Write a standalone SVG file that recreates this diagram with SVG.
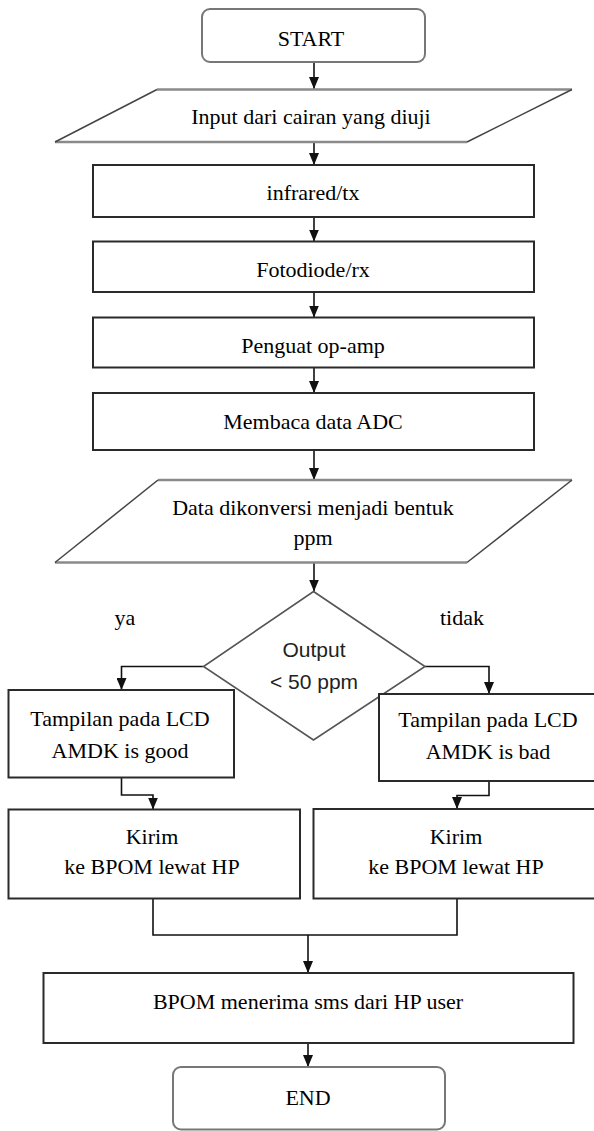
<svg xmlns="http://www.w3.org/2000/svg" width="594" height="1131" viewBox="0 0 594 1131">
<style>
.t{font-family:'Liberation Serif','Times New Roman',serif;font-size:22px;fill:#000;text-anchor:middle}
.s{font-family:'Liberation Sans',Arial,sans-serif;font-size:21px;fill:#222;text-anchor:middle}
.box{fill:#fff;stroke:#2a2a2a;stroke-width:2}
.term{fill:#fff;stroke:#777;stroke-width:2}
.ph{stroke:#8a8a8a;stroke-width:2.5;fill:none}
.pd{stroke:#444;stroke-width:1.5;fill:none}
.dia{fill:#fff;stroke:#555;stroke-width:1.6}
.c{fill:none;stroke:#111;stroke-width:1.6}
</style>
<defs>
<marker id="ah" markerUnits="userSpaceOnUse" markerWidth="12" markerHeight="10" refX="12" refY="5" orient="auto">
<path d="M0,0 L12,5 L0,10 z" fill="#111"/>
</marker>
</defs>
<rect width="594" height="1131" fill="#fff"/>

<g id="connectors">
<path class="c" d="M314,62 V89" marker-end="url(#ah)"/>
<path class="c" d="M314,142 V165" marker-end="url(#ah)"/>
<path class="c" d="M314,217 V241.5" marker-end="url(#ah)"/>
<path class="c" d="M314,292 V317.5" marker-end="url(#ah)"/>
<path class="c" d="M314,367.5 V393" marker-end="url(#ah)"/>
<path class="c" d="M314,450 V480" marker-end="url(#ah)"/>
<path class="c" d="M314,563 V591.5" marker-end="url(#ah)"/>
<path class="c" d="M203.5,666.5 H121.5 V690" marker-end="url(#ah)"/>
<path class="c" d="M425,666.5 H489 V694" marker-end="url(#ah)"/>
<path class="c" d="M121.5,777.5 V795 H153 V809.5" marker-end="url(#ah)"/>
<path class="c" d="M489,781 V795.5 H457 V809" marker-end="url(#ah)"/>
<path class="c" d="M153,898.5 V935 H457 V898.5"/>
<path class="c" d="M308,935 V973" marker-end="url(#ah)"/>
<path class="c" d="M308,1043 V1067" marker-end="url(#ah)"/>
</g>

<g id="start">
<rect class="term" x="202" y="9" width="223" height="53" rx="8"/>
<text class="t" x="311" y="45.5">START</text>
</g>

<g id="input">
<polygon points="157,89.5 572,89.5 467,142 55,142" fill="#fff"/>
<line class="ph" x1="157" y1="89.5" x2="572" y2="89.5"/>
<line class="ph" x1="55" y1="142" x2="467" y2="142"/>
<line class="pd" x1="157" y1="89.5" x2="55" y2="142"/>
<line class="pd" x1="572" y1="89.5" x2="467" y2="142"/>
<text class="t" x="311" y="124">Input dari cairan yang diuji</text>
</g>

<g id="infrared">
<rect class="box" x="93" y="165" width="441" height="52"/>
<text class="t" x="313" y="200">infrared/tx</text>
</g>

<g id="fotodiode">
<rect class="box" x="93" y="241.5" width="441" height="50.5"/>
<text class="t" x="313" y="276.5">Fotodiode/rx</text>
</g>

<g id="penguat">
<rect class="box" x="93" y="317.5" width="441" height="50"/>
<text class="t" x="313" y="352.5">Penguat op-amp</text>
</g>

<g id="membaca">
<rect class="box" x="93" y="393" width="441" height="57"/>
<text class="t" x="313" y="429">Membaca data ADC</text>
</g>

<g id="konversi">
<polygon points="158,480 572,480 467,562.5 55,562.5" fill="#fff"/>
<line class="ph" x1="158" y1="480" x2="572" y2="480"/>
<line class="ph" x1="55" y1="562.5" x2="467" y2="562.5"/>
<line class="pd" x1="158" y1="480" x2="55" y2="562.5"/>
<line class="pd" x1="572" y1="480" x2="467" y2="562.5"/>
<text class="t" x="313" y="515">Data dikonversi menjadi bentuk</text>
<text class="t" x="313" y="545">ppm</text>
</g>

<g id="decision">
<polygon class="dia" points="313.5,591.5 425,666.5 313.5,740 203.5,666.5"/>
<text class="s" x="314" y="657">Output</text>
<text class="s" x="314" y="689">&lt; 50 ppm</text>
</g>

<g id="label-ya">
<text class="t" x="125" y="625">ya</text>
</g>
<g id="label-tidak">
<text class="t" x="462" y="625">tidak</text>
</g>

<g id="lcd-good">
<rect class="box" x="8.5" y="690" width="225.5" height="87.5"/>
<text class="t" x="120" y="725.5">Tampilan pada LCD</text>
<text class="t" x="120" y="757.5">AMDK is good</text>
</g>

<g id="lcd-bad">
<rect class="box" x="379" y="694" width="220" height="87"/>
<text class="t" x="488" y="727">Tampilan pada LCD</text>
<text class="t" x="488" y="759">AMDK is bad</text>
</g>

<g id="kirim-good">
<rect class="box" x="8.5" y="809.5" width="291.5" height="89"/>
<text class="t" x="152" y="843.5">Kirim</text>
<text class="t" x="152" y="873.5">ke BPOM lewat HP</text>
</g>

<g id="kirim-bad">
<rect class="box" x="313.5" y="809" width="290" height="89.5"/>
<text class="t" x="456" y="843.5">Kirim</text>
<text class="t" x="456" y="873.5">ke BPOM lewat HP</text>
</g>

<g id="bpom">
<rect class="box" x="43.5" y="973" width="530" height="70"/>
<text class="t" x="308" y="1008.5">BPOM menerima sms dari HP user</text>
</g>

<g id="end">
<rect class="term" x="173" y="1067" width="272" height="62.5" rx="8"/>
<text class="t" x="308" y="1105">END</text>
</g>
</svg>
